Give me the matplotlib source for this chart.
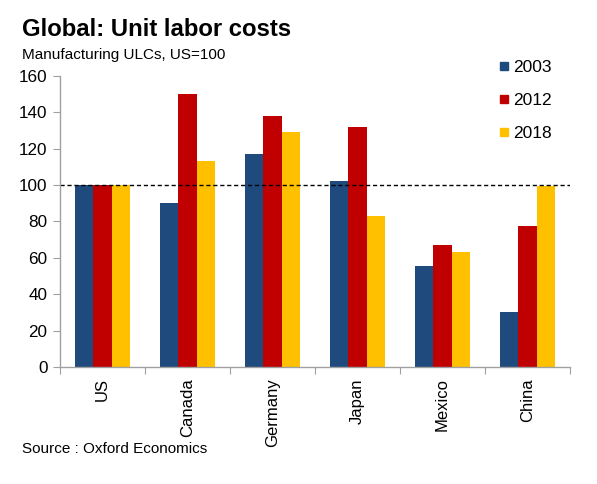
import matplotlib
matplotlib.use("Agg")
import matplotlib.pyplot as plt
from matplotlib.lines import Line2D
import numpy as np

plt.rcParams['font.family'] = ['Liberation Sans', 'DejaVu Sans']

categories = ["US", "Canada", "Germany", "Japan", "Mexico", "China"]
years = ["2003", "2012", "2018"]
v2003 = [100, 90, 117, 102, 55.5, 30]
v2012 = [100, 150, 138, 132, 67, 77.5]
v2018 = [100, 113, 129, 83, 63, 99.5]
colors = ["#1F4A7E", "#C00000", "#FFC000"]
yticks = [0, 20, 40, 60, 80, 100, 120, 140, 160]

fig = plt.figure(figsize=(5.97, 4.84), dpi=100)
ax = fig.add_axes([60/597, 1-367/484, (570-60)/597, (367-76)/484])

x = np.arange(len(categories))
w = 0.212
for i, (vals, c) in enumerate(zip([v2003, v2012, v2018], colors)):
    ax.bar(x + (i-1)*w, vals, width=w, color=c, edgecolor='none')

ax.axhline(100, color='black', lw=1, dashes=(3, 2))

ax.set_xlim(-0.5, len(categories)-0.5)
ax.set_ylim(0, 160)
ax.set_yticks(yticks)
ax.set_yticklabels([str(t) for t in yticks], fontsize=12.3)

ax.set_xticks(np.arange(len(categories)+1)-0.5)
ax.set_xticklabels([])
ax.set_xticks(x, minor=True)
ax.set_xticklabels(categories, minor=True, rotation=90, fontsize=12)
ax.tick_params(axis='x', which='minor', length=0, pad=8)
ax.tick_params(axis='x', which='major', length=5, color='#A0A0A0', direction='out')
ax.tick_params(axis='y', length=5, color='#A0A0A0', direction='out', pad=4)

for s in ['top', 'right']:
    ax.spines[s].set_visible(False)
for s in ['left', 'bottom']:
    ax.spines[s].set_color('#A0A0A0')
    ax.spines[s].set_linewidth(1)

handles = [Line2D([0], [0], marker='s', linestyle='none', markersize=5.2,
                  markerfacecolor=c, markeredgecolor=c) for c in colors]
leg = fig.legend(handles, years, loc='upper left', bbox_to_anchor=(492/597, 1-53/484),
                 frameon=False, fontsize=12.5, handlelength=0.6, handletextpad=0.2,
                 labelspacing=1.02, borderaxespad=0)

fig.text(22/597, 1-30/484, "Global: Unit labor costs", fontsize=17.2, fontweight='bold',
         va='center', ha='left')
fig.text(22/597, 1-55/484, "Manufacturing ULCs, US=100", fontsize=11, va='center', ha='left')
fig.text(22/597, 1-449/484, "Source : Oxford Economics", fontsize=11, va='center', ha='left')

fig.savefig("out.png", dpi=100)
